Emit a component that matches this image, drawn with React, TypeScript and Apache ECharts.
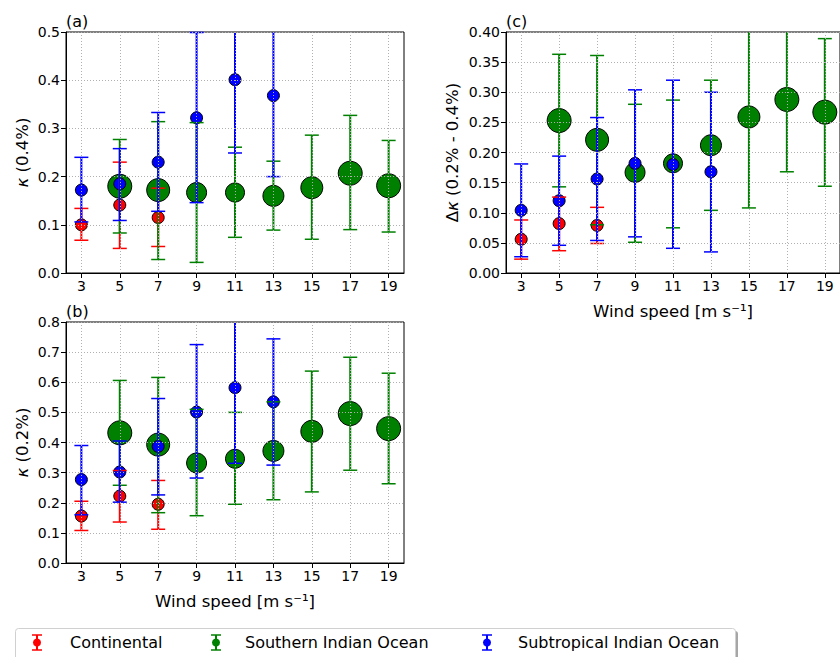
import React, { useEffect, useRef } from "react";
import * as echarts from "echarts";

const windTicks = [3, 5, 7, 9, 11, 13, 15, 17, 19];
const yTicksA = [0, 0.1, 0.2, 0.3, 0.4, 0.5];
const yTicksB = [0, 0.1, 0.2, 0.3, 0.4, 0.5, 0.6, 0.7, 0.8];
const yTicksC = [0, 0.05, 0.1, 0.15, 0.2, 0.25, 0.3, 0.35, 0.4];

// wind-speed bins for each air-mass group
const contX = [3, 5, 7];
const southX = [5, 7, 9, 11, 13, 15, 17, 19];
const subX = [3, 5, 7, 9, 11, 13];

// marker sizes (px) of Southern Indian Ocean points (scale with sample count)
const southSize = [24, 23, 20, 19, 21, 22, 24, 24];
const contSize = [12, 12, 12];
const subSize = [12, 12, 12, 12, 12, 12];

// Panel (a): kappa (0.4%)
const contA = [0.1, 0.141, 0.115];
const contLoA = [0.068, 0.051, 0.055];
const contHiA = [0.134, 0.23, 0.176];
const southA = [0.18, 0.172, 0.167, 0.167, 0.16, 0.177, 0.207, 0.181];
const southLoA = [0.083, 0.028, 0.022, 0.074, 0.089, 0.07, 0.09, 0.085];
const southHiA = [0.277, 0.314, 0.312, 0.261, 0.232, 0.286, 0.327, 0.275];
const subA = [0.172, 0.185, 0.23, 0.322, 0.401, 0.368];
const subLoA = [0.106, 0.109, 0.128, 0.146, 0.249, 0.2];
const subHiA = [0.24, 0.258, 0.333, 0.499, 0.56, 0.54];

// Panel (b): kappa (0.2%)
const contB = [0.156, 0.222, 0.195];
const contLoB = [0.108, 0.136, 0.112];
const contHiB = [0.205, 0.307, 0.274];
const southB = [0.432, 0.393, 0.332, 0.346, 0.372, 0.437, 0.496, 0.446];
const southLoB = [0.258, 0.167, 0.157, 0.195, 0.21, 0.236, 0.308, 0.263];
const southHiB = [0.606, 0.616, 0.51, 0.5, 0.535, 0.637, 0.683, 0.63];
const subB = [0.277, 0.302, 0.387, 0.501, 0.582, 0.535];
const subLoB = [0.16, 0.202, 0.226, 0.282, 0.331, 0.325];
const subHiB = [0.39, 0.405, 0.546, 0.725, 0.84, 0.744];

// Panel (c): delta kappa (0.2% - 0.4%)
const contC = [0.056, 0.082, 0.079];
const contLoC = [0.023, 0.037, 0.049];
const contHiC = [0.088, 0.126, 0.109];
const southC = [0.253, 0.221, 0.167, 0.182, 0.212, 0.259, 0.288, 0.267];
const southLoC = [0.143, 0.08, 0.051, 0.075, 0.104, 0.108, 0.168, 0.144];
const southHiC = [0.363, 0.361, 0.28, 0.287, 0.32, 0.42, 0.42, 0.389];
const subC = [0.104, 0.12, 0.156, 0.182, 0.18, 0.168];
const subLoC = [0.027, 0.046, 0.054, 0.06, 0.041, 0.035];
const subHiC = [0.181, 0.194, 0.258, 0.304, 0.32, 0.3];

const seriesNames = ["Continental", "Southern Indian Ocean", "Subtropical Indian Ocean"];
const colors = ["#ff0000", "#008000", "#0000ff"];

const FONT = "DejaVu Sans";

function errRender(color: string) {
  return (params: any, api: any) => {
    const x = api.value(0);
    const lo = api.value(1);
    const hi = api.value(2);
    const cs = params.coordSys;
    const pLo = api.coord([x, lo]);
    const pHi = api.coord([x, hi]);
    const top = cs.y;
    const bot = cs.y + cs.height;
    const y1 = Math.max(pHi[1], top);
    const y2 = Math.min(pLo[1], bot);
    const half = 7;
    const children: any[] = [
      {
        type: "line",
        shape: { x1: pLo[0], y1, x2: pLo[0], y2 },
        style: { stroke: color, lineWidth: 2 },
      },
    ];
    if (pHi[1] >= top - 0.5) {
      children.push({
        type: "line",
        shape: { x1: pHi[0] - half, y1: pHi[1], x2: pHi[0] + half, y2: pHi[1] },
        style: { stroke: color, lineWidth: 1.5 },
      });
    }
    if (pLo[1] <= bot + 0.5) {
      children.push({
        type: "line",
        shape: { x1: pLo[0] - half, y1: pLo[1], x2: pLo[0] + half, y2: pLo[1] },
        style: { stroke: color, lineWidth: 1.5 },
      });
    }
    return { type: "group", children };
  };
}

export default function App() {
  const ref = useRef<HTMLDivElement>(null);
  useEffect(() => {
    if (!ref.current) return;
    const chart = echarts.init(ref.current, undefined, { renderer: "svg" });

    const grids = [
      { left: 66, top: 32, width: 338, height: 241 },
      { left: 66, top: 322, width: 338, height: 241 },
      { left: 506, top: 32, width: 337, height: 241 },
    ].map((g) => ({ ...g, show: true, borderColor: "#000", borderWidth: 1, backgroundColor: "transparent" }));

    const gridLine = { show: true, lineStyle: { color: "#b0b0b0", width: 1, type: [1, 2] as any } };

    const xAxes = [0, 1, 2].map((i) => ({
      type: "value",
      gridIndex: i,
      min: 2.2,
      max: 19.8,
      z: 5,
      axisLine: { show: true, lineStyle: { color: "#000", width: 1 } },
      axisTick: { show: true, length: 5, lineStyle: { color: "#000" }, customValues: windTicks },
      axisLabel: { customValues: windTicks, color: "#000", fontSize: 14, fontFamily: FONT, margin: 6 },
      splitLine: gridLine,
      name: i === 0 ? "" : "Wind speed [m s\u207B\u00B9]",
      nameLocation: "middle",
      nameGap: 30,
      nameTextStyle: { color: "#000", fontSize: 16.5, fontFamily: FONT },
    }));

    const yNames = ["{i|κ} (0.4%)", "{i|κ} (0.2%)", "Δ{i|κ} (0.2% - 0.4%)"];
    const yMax = [0.5, 0.8, 0.4];
    const yInt = [0.1, 0.1, 0.05];
    const yDec = [1, 1, 2];
    const yGap = [35, 35, 45];
    const yAxes = [0, 1, 2].map((i) => ({
      type: "value",
      gridIndex: i,
      min: 0,
      max: yMax[i],
      interval: yInt[i],
      z: 5,
      axisLine: { show: true, lineStyle: { color: "#000", width: 1 } },
      axisTick: { show: true, length: 5, lineStyle: { color: "#000" } },
      axisLabel: {
        color: "#000",
        fontSize: 14,
        fontFamily: FONT,
        margin: 6,
        formatter: (v: number) => v.toFixed(yDec[i]),
      },
      splitLine: gridLine,
      name: yNames[i],
      nameLocation: "middle",
      nameGap: yGap[i],
      nameTextStyle: {
        color: "#000",
        fontSize: 16.5,
        fontFamily: FONT,
        rich: { i: { fontStyle: "italic", fontSize: 16.5, fontFamily: FONT, color: "#000" } },
      },
    }));

    const panels = [
      {
        cont: [contA, contLoA, contHiA],
        south: [southA, southLoA, southHiA],
        sub: [subA, subLoA, subHiA],
      },
      {
        cont: [contB, contLoB, contHiB],
        south: [southB, southLoB, southHiB],
        sub: [subB, subLoB, subHiB],
      },
      {
        cont: [contC, contLoC, contHiC],
        south: [southC, southLoC, southHiC],
        sub: [subC, subLoC, subHiC],
      },
    ];

    const series: any[] = [];
    panels.forEach((p, i) => {
      const groups = [
        { xs: contX, d: p.cont, sz: contSize },
        { xs: southX, d: p.south, sz: southSize },
        { xs: subX, d: p.sub, sz: subSize },
      ];
      groups.forEach((g, k) => {
        series.push({
          type: "scatter",
          name: seriesNames[k],
          xAxisIndex: i,
          yAxisIndex: i,
          z: 2,
          symbol: "circle",
          data: g.xs.map((x, j) => [x, g.d[0][j], g.sz[j]]),
          symbolSize: (v: number[]) => v[2],
          itemStyle: { color: colors[k], borderColor: "#000", borderWidth: 1, opacity: 1 },
        });
      });
      groups.forEach((g, k) => {
        series.push({
          type: "custom",
          name: seriesNames[k] + " err",
          xAxisIndex: i,
          yAxisIndex: i,
          z: 3,
          encode: { x: 0, y: [1, 2] },
          data: g.xs.map((x, j) => [x, g.d[1][j], g.d[2][j]]),
          renderItem: errRender(colors[k]),
        });
      });
    });

    const legendItems = [
      { icon: 37, text: 70 },
      { icon: 216, text: 245 },
      { icon: 487, text: 518 },
    ];
    const legendGraphics: any[] = [
      {
        type: "rect",
        left: 18,
        top: 631,
        shape: { width: 720, height: 40, r: 3 },
        style: { fill: "rgba(0,0,0,0.35)" },
        z: 10,
      },
      {
        type: "rect",
        left: 15,
        top: 628,
        shape: { width: 720, height: 40, r: 3 },
        style: { fill: "#fff", stroke: "#d0d0d0", lineWidth: 1 },
        z: 11,
      },
    ];
    legendItems.forEach((it, k) => {
      const cx = it.icon;
      legendGraphics.push(
        { type: "line", shape: { x1: cx, y1: 635, x2: cx, y2: 650 }, style: { stroke: colors[k], lineWidth: 2 }, z: 12 },
        { type: "line", shape: { x1: cx - 5, y1: 635, x2: cx + 5, y2: 635 }, style: { stroke: colors[k], lineWidth: 1.5 }, z: 12 },
        { type: "line", shape: { x1: cx - 5, y1: 650, x2: cx + 5, y2: 650 }, style: { stroke: colors[k], lineWidth: 1.5 }, z: 12 },
        { type: "circle", shape: { cx, cy: 642.5, r: 4 }, style: { fill: colors[k] }, z: 12 },
        {
          type: "text",
          x: it.text,
          y: 642.5,
          style: { text: seriesNames[k], fill: "#000", font: `16px "${FONT}"`, verticalAlign: "middle", align: "left" },
          z: 12,
        }
      );
    });

    const labels = [
      { t: "(a)", x: 66, y: 21 },
      { t: "(b)", x: 66, y: 311 },
      { t: "(c)", x: 506, y: 21 },
    ].map((l) => ({
      type: "text",
      x: l.x,
      y: l.y,
      style: { text: l.t, fill: "#000", font: `16px "${FONT}"`, verticalAlign: "middle", align: "left" },
      z: 12,
    }));

    chart.setOption({
      animation: false,
      backgroundColor: "#fff",
      textStyle: { fontFamily: FONT },
      grid: grids,
      xAxis: xAxes,
      yAxis: yAxes,
      series,
      graphic: [...legendGraphics, ...labels],
    });
    return () => chart.dispose();
  }, []);
  return <div ref={ref} style={{ position: "fixed", left: 0, top: 0, width: 840, height: 657 }} />;
}
